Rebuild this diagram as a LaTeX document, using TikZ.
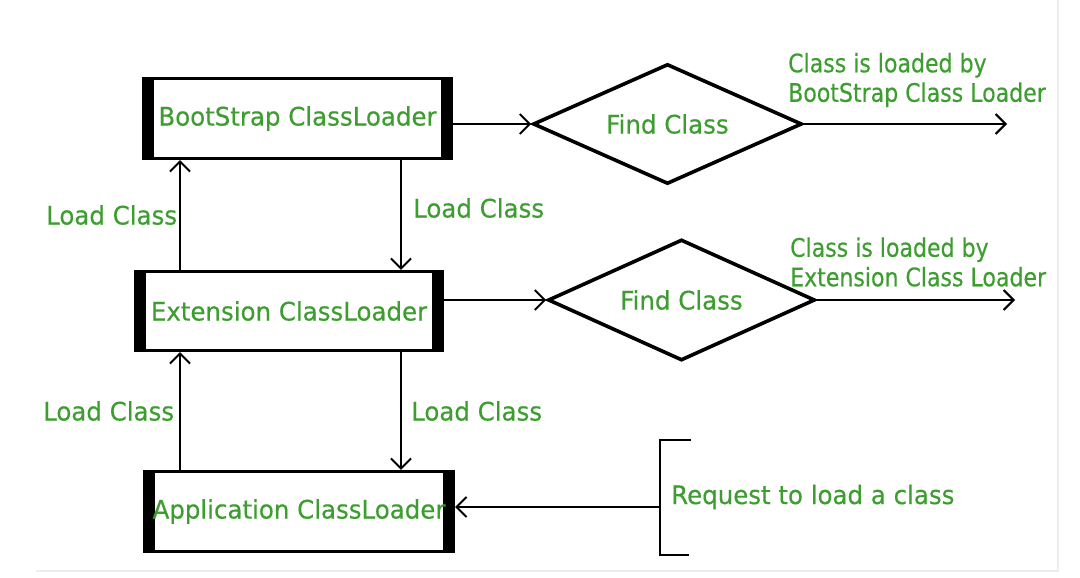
\documentclass[tikz,border=0pt]{standalone}
\usepackage{fontspec}
\setmainfont{DejaVu Sans}[FakeStretch=0.96,FakeBold=0.4]
\newfontfamily\narrowlbl{DejaVu Sans}[FakeStretch=0.865,FakeBold=0.4]
\usetikzlibrary{arrows.meta,shapes.geometric}
\definecolor{lblgreen}{RGB}{62,157,48}
\tikzset{
  loader/.style={draw, line width=2.8pt, rectangle, inner sep=0pt, text=lblgreen,
    path picture={
      \fill (path picture bounding box.north west) rectangle ([xshift=11pt]path picture bounding box.south west);
      \fill (path picture bounding box.north east) rectangle ([xshift=-11pt]path picture bounding box.south east);
    }},
  decide/.style={draw, line width=3.6pt, diamond, inner sep=0pt, aspect=2.2, text=lblgreen},
  lbl/.style={text=lblgreen, inner sep=0pt},
  outlbl/.style={lbl, align=left, font=\narrowlbl\fontsize{25.5}{29.5}\selectfont},
  arr/.style={line width=2pt, -{Straight Barb[length=10pt,width=20pt]}},
  plain/.style={line width=2.2pt},
}
\begin{document}
\begin{tikzpicture}[x=1pt,y=-1pt,font=\fontsize{25.5}{29}\selectfont]
\useasboundingbox (0,0) rectangle (1080,578);
% faint frame
\draw[black!7, line width=2pt] (36,571) -- (1058,571) -- (1058,0);

% loaders
\node[loader, minimum width=308.5pt, minimum height=80.5pt] (boot) at (297.5,118.5) {BootStrap ClassLoader};
\node[loader, minimum width=307.5pt, minimum height=79.5pt] (ext) at (289,311) {Extension ClassLoader};
\node[loader, minimum width=309.5pt, minimum height=80.5pt] (app) at (299,511.5) {Application ClassLoader};

% decisions
\node[decide, minimum width=269pt, minimum height=120pt] (d1) at (667.5,124) {Find Class};
\node[decide, minimum width=267pt, minimum height=121pt] (d2) at (681.5,300) {Find Class};

% outputs
\coordinate (o1) at (1007,124);
\coordinate (o2) at (1015,300);
\draw[arr] (boot.east |- d1.west) -- (d1.west);
\draw[arr] (d1.east) -- (o1);
\draw[arr] (ext.east |- d2.west) -- (d2.west);
\draw[arr] (d2.east) -- (o2);
\node[outlbl, anchor=west] (t1) at (788,80) {Class is loaded by\\BootStrap Class Loader};
\node[outlbl, anchor=west] (t2) at (790,262) {Class is loaded by\\Extension Class Loader};

% vertical arrows
\coordinate (xl) at (180,0);
\coordinate (xr) at (401,0);
\draw[arr] (ext.north -| xl) -- (boot.south -| xl);
\draw[arr] (boot.south -| xr) -- (ext.north -| xr);
\draw[arr] (app.north -| xl) -- (ext.south -| xl);
\draw[arr] (ext.south -| xr) -- (app.north -| xr);
\node[lbl, anchor=west] (l1) at (46,215) {Load Class};
\node[lbl, anchor=west] (l2) at (413,208) {Load Class};
\node[lbl, anchor=west] (l3) at (43,411) {Load Class};
\node[lbl, anchor=west] (l4) at (411,411) {Load Class};

% request bracket
\coordinate (bt) at (660,440);
\coordinate (bb) at (660,555);
\coordinate (bm) at (660,507);
\draw[plain] ([xshift=31pt]bt) -- (bt) -- (bb) -- ([xshift=29pt]bb);
\draw[arr] (bm) -- (app.east |- bm);
\node[lbl, anchor=west] (req) at (671,497) {Request to load a class};
\end{tikzpicture}
\end{document}
